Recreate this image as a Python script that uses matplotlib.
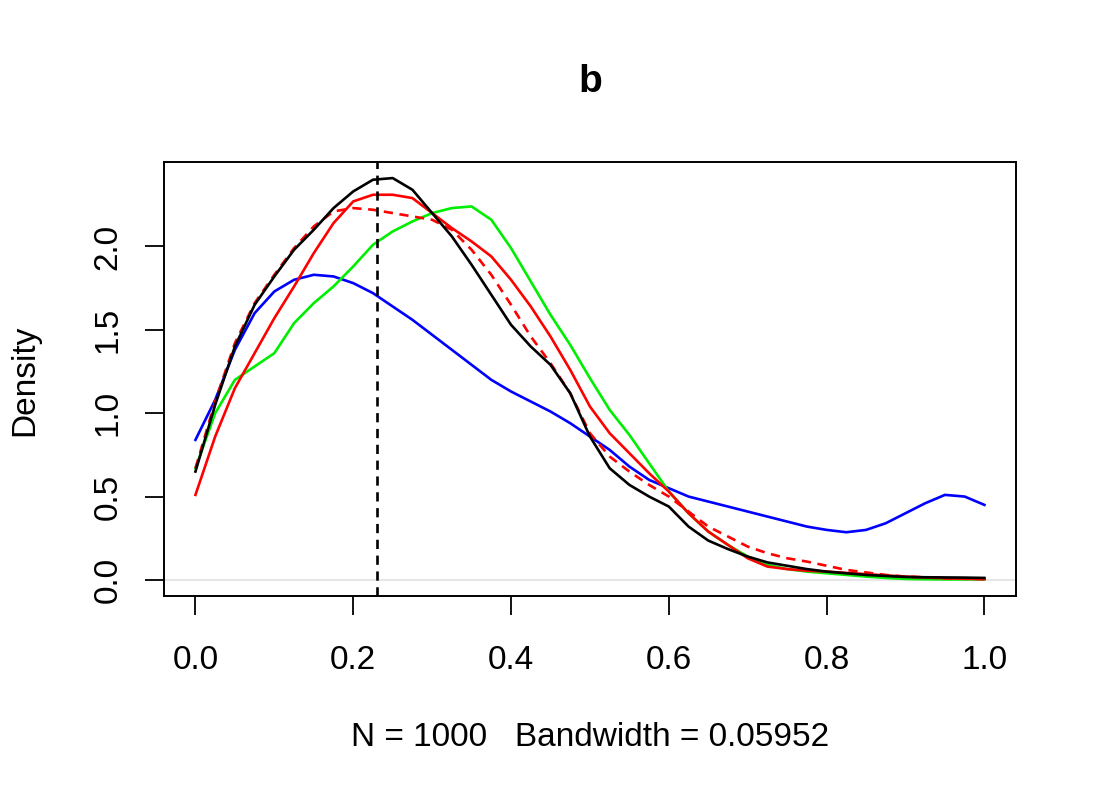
import numpy as np
import matplotlib.pyplot as plt

plt.rcParams['font.family'] = ['Liberation Sans', 'DejaVu Sans']

# grid of x values where the curves were read
x = [0.0, 0.025, 0.05, 0.075, 0.1, 0.125, 0.15, 0.175, 0.2, 0.225,
     0.25, 0.275, 0.3, 0.325, 0.35, 0.375, 0.4, 0.425, 0.45, 0.475,
     0.5, 0.525, 0.55, 0.575, 0.6, 0.625, 0.65, 0.675, 0.7, 0.725,
     0.75, 0.775, 0.8, 0.825, 0.85, 0.875, 0.9, 0.925, 0.95, 0.975, 1.0]

black = [0.65, 1.05, 1.40, 1.65, 1.82, 1.98, 2.10, 2.23, 2.33, 2.40,
         2.41, 2.34, 2.20, 2.06, 1.89, 1.71, 1.53, 1.40, 1.29, 1.12,
         0.86, 0.67, 0.57, 0.50, 0.44, 0.32, 0.236, 0.185, 0.14, 0.105,
         0.085, 0.065, 0.05, 0.04, 0.03, 0.024, 0.018, 0.016, 0.015, 0.014, 0.012]

red = [0.51, 0.86, 1.15, 1.36, 1.57, 1.76, 1.96, 2.14, 2.27, 2.31,
       2.31, 2.29, 2.20, 2.11, 2.03, 1.94, 1.80, 1.64, 1.46, 1.26,
       1.04, 0.88, 0.76, 0.64, 0.53, 0.40, 0.29, 0.21, 0.13, 0.08,
       0.065, 0.055, 0.05, 0.042, 0.035, 0.027, 0.02, 0.015, 0.01, 0.007, 0.005]

red_dash = [0.67, 1.07, 1.42, 1.66, 1.83, 1.99, 2.12, 2.21, 2.23, 2.22,
            2.20, 2.18, 2.16, 2.10, 1.98, 1.83, 1.65, 1.46, 1.30, 1.12,
            0.88, 0.74, 0.65, 0.57, 0.50, 0.41, 0.32, 0.26, 0.20, 0.16,
            0.13, 0.11, 0.085, 0.06, 0.045, 0.03, 0.02, 0.015, 0.01, 0.007, 0.005]

green = [0.67, 1.00, 1.20, 1.28, 1.36, 1.54, 1.66, 1.76, 1.88, 2.01,
         2.09, 2.15, 2.20, 2.23, 2.24, 2.16, 1.99, 1.79, 1.59, 1.41,
         1.21, 1.02, 0.87, 0.70, 0.53, 0.40, 0.29, 0.21, 0.14, 0.09,
         0.065, 0.05, 0.04, 0.03, 0.02, 0.012, 0.006, 0.004, 0.003, 0.003, 0.003]

blue = [0.84, 1.08, 1.38, 1.60, 1.73, 1.80, 1.83, 1.82, 1.78, 1.72,
        1.64, 1.56, 1.47, 1.38, 1.29, 1.20, 1.13, 1.07, 1.01, 0.94,
        0.86, 0.78, 0.68, 0.60, 0.55, 0.50, 0.47, 0.44, 0.41, 0.38,
        0.35, 0.32, 0.30, 0.286, 0.30, 0.34, 0.40, 0.46, 0.51, 0.50, 0.45]

mode_x = 0.23
yticks = [0.0, 0.5, 1.0, 1.5, 2.0]
xticks = [0.0, 0.2, 0.4, 0.6, 0.8, 1.0]

fig = plt.figure(figsize=(11, 8), dpi=100)
ax = fig.add_axes([0.149, 0.255, 0.7746, 0.5425])

ax.axhline(0, color='#e6e6e6', lw=1.5, zorder=1)
ax.plot(x, blue, color='blue', lw=1.9)
ax.plot(x, green, color='#00ee00', lw=1.9)
ax.plot(x, red, color='red', lw=1.9)
ax.plot(x, red_dash, color='red', lw=1.9, dashes=(3.5, 2.5))
ax.plot(x, black, color='black', lw=1.9)
ax.axvline(mode_x, color='black', lw=1.9, dashes=(3.5, 2.5))

ymax = max(black)
ax.set_xlim(-0.04, 1.04)
ax.set_ylim(-0.04 * ymax, 1.04 * ymax)

ax.set_xticks(xticks)
ax.set_xticklabels([f'{t:.1f}' for t in xticks])
ax.set_yticks(yticks)
ax.set_yticklabels([f'{t:.1f}' for t in yticks], rotation=90, va='center')
ax.tick_params(direction='out', length=14, width=1.3, labelsize=24)
ax.tick_params(axis='x', pad=21)
ax.tick_params(axis='y', pad=15)
for s in ax.spines.values():
    s.set_linewidth(1.4)

# title and axis labels placed like R's margins
fig.text(0.5364, 0.8975, 'b', fontsize=28, fontweight='bold', ha='center', va='center')
fig.text(0.5364, 0.0775, 'N = 1000   Bandwidth = 0.05952', fontsize=24, ha='center', va='center')
fig.text(0.0227, 0.525, 'Density', fontsize=24, rotation=90, ha='center', va='center')

fig.savefig('out.png', dpi=100)
